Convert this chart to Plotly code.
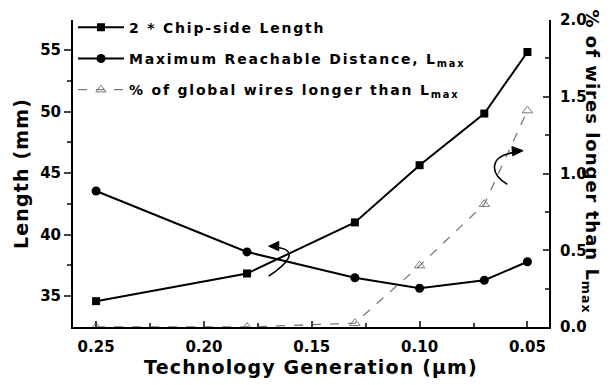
import plotly.graph_objects as go

# Technology nodes (um) and the three series
tech_nodes = [0.25, 0.18, 0.13, 0.10, 0.07, 0.05]
chip_side_x2 = [34.6, 36.85, 41.0, 45.65, 49.85, 54.85]
max_reach = [43.55, 38.6, 36.5, 35.65, 36.3, 37.8]
pct_longer = [0.0, 0.0, 0.025, 0.40, 0.80, 1.41]

x_ticks = [0.25, 0.20, 0.15, 0.10, 0.05]
y_ticks = [35, 40, 45, 50, 55]
y2_ticks = [0.0, 0.5, 1.0, 1.5, 2.0]

FONT = "DejaVu Sans"
TICK_FONT = dict(family=FONT, size=15, color="black", weight="bold")
TITLE_FONT = dict(family=FONT, size=19, color="black", weight="bold")

fig = go.Figure()
fig.add_trace(go.Scatter(
    x=tech_nodes, y=chip_side_x2, name="2 * Chip-side Length",
    mode="lines+markers", legendgroup="a",
    line=dict(color="black", width=2),
    marker=dict(symbol="square", size=8, color="black"),
))
fig.add_trace(go.Scatter(
    x=tech_nodes, y=max_reach, name="Maximum Reachable Distance, L<sub>max</sub>",
    mode="lines+markers", legendgroup="b",
    line=dict(color="black", width=2),
    marker=dict(symbol="circle", size=9, color="black"),
))
fig.add_trace(go.Scatter(
    x=tech_nodes, y=pct_longer, name="% of global wires longer than L<sub>max</sub>",
    mode="lines+markers", legendgroup="c", yaxis="y2",
    line=dict(color="#7a7a7a", width=1.3, dash="dash"),
    marker=dict(symbol="triangle-up-open", size=9, color="#7a7a7a", line=dict(width=1)),
))

# curved arrows pointing each curve to its axis
arrow_style = dict(type="path", line=dict(color="black", width=1.6))
fig.add_shape(**arrow_style, xref="x", yref="y",
              path="M 0.1700,36.63 C 0.1621,37.52 0.1551,38.74 0.1663,38.98")
fig.add_shape(type="path", xref="x", yref="y", line=dict(color="black", width=1),
              fillcolor="black",
              path="M 0.1700,39.07 L 0.1653,39.45 L 0.1653,38.70 Z")
fig.add_shape(**arrow_style, xref="x", yref="y2",
              path="M 0.0593,0.929 C 0.0677,1.0 0.0677,1.110 0.0565,1.136")
fig.add_shape(type="path", xref="x", yref="y2", line=dict(color="black", width=1),
              fillcolor="black",
              path="M 0.0520,1.149 L 0.0572,1.175 L 0.0568,1.115 Z")

fig.add_annotation(
    text="% of wires longer than L<sub>max</sub>", textangle=90,
    xref="paper", yref="paper", x=1.0, y=0.539, xanchor="center", yanchor="middle",
    xshift=42, showarrow=False,
    font=dict(family=FONT, size=18, color="black", weight="bold"),
)

fig.update_layout(
    width=613, height=385,
    margin=dict(l=73, r=64, t=20, b=58, autoexpand=False),
    paper_bgcolor="white", plot_bgcolor="white",
    font=TICK_FONT,
    showlegend=True,
    legend=dict(x=0.0, y=1.027, xanchor="left", yanchor="top", itemwidth=46,
                bgcolor="rgba(0,0,0,0)", tracegroupgap=10,
                font=dict(family=FONT, size=14, color="black", weight="bold")),
    xaxis=dict(
        range=[0.2607, 0.040], tickvals=x_ticks, ticktext=[f"{v:.2f}" for v in x_ticks],
        ticks="inside", ticklen=6, tickwidth=1.5, ticklabelstandoff=5,
        minor=dict(tickvals=[0.225, 0.175, 0.125, 0.075], ticks="inside", ticklen=4, tickwidth=1.5),
        showline=True, linecolor="black", linewidth=2, showgrid=False, zeroline=False,
        title=dict(text="Technology Generation (\u03bcm)", standoff=4, font=TITLE_FONT),
    ),
    yaxis=dict(
        range=[32.5, 57.45], tickvals=y_ticks,
        ticks="outside", ticklen=7, tickwidth=1.5,
        minor=dict(tickvals=[37.5, 42.5, 47.5, 52.5], ticks="outside", ticklen=4, tickwidth=1.5),
        showline=True, linecolor="black", linewidth=2, showgrid=False, zeroline=False,
        title=dict(text="Length (mm)", standoff=6, font=TITLE_FONT),
    ),
    yaxis2=dict(
        range=[0.0, 2.0], tickvals=y2_ticks, ticktext=[f"{v:.1f}" for v in y2_ticks],
        overlaying="y", side="right",
        ticks="inside", ticklen=6, tickwidth=1.5, ticklabelstandoff=6,
        minor=dict(tickvals=[0.25, 0.75, 1.25, 1.75], ticks="inside", ticklen=4, tickwidth=1.5),
        showline=True, linecolor="black", linewidth=2, showgrid=False, zeroline=False,
    ),
)

# Widen the letter spacing of legend and title text, then redraw.  The font
# family string gets a fallback appended so plotly re-measures the spaced text
# instead of reusing the sizes it cached during the first draw.
spacing_js = """
var gd = document.getElementById('{plot_id}');
var css = document.createElement('style');
css.textContent =
  '.legendtext {letter-spacing: 1.8px;}' +
  '.xtitle, .ytitle {letter-spacing: 1.15px;}' +
  '.annotation-text {letter-spacing: 1.0px;}';
document.head.appendChild(css);
var lay = JSON.parse(JSON.stringify(gd.layout)
    .split('"DejaVu Sans"').join('"DejaVu Sans, sans-serif"'));
return Plotly.newPlot(gd, gd.data, lay);
"""

fig.write_html("out.html", post_script=spacing_js)
